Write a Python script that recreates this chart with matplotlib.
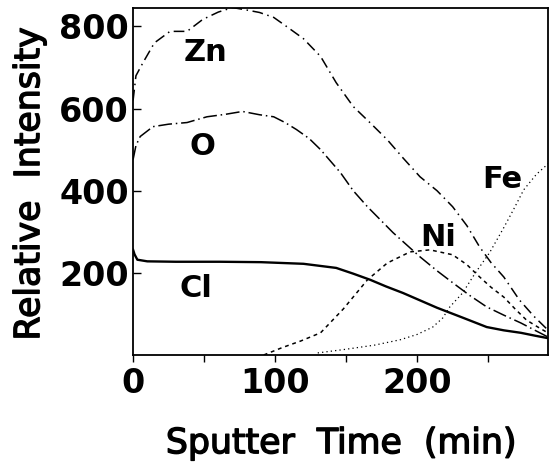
import matplotlib
matplotlib.use("Agg")
import matplotlib.pyplot as plt
import matplotlib.patheffects as pe

plt.rcParams['font.family'] = ['DejaVu Sans']

# depth profiles (time in min, intensity)
zn_t = [0, 2, 7, 15, 26, 38, 49, 60, 70, 80, 89, 99, 108, 120, 132, 143, 155,
        167, 179, 190, 202, 214, 225, 235, 244, 252, 261, 272, 282, 292]
zn_y = [620, 680, 712, 760, 788, 788, 817, 835, 846, 840, 834, 822, 800, 770,
        727, 663, 605, 565, 524, 480, 434, 400, 361, 315, 263, 225, 190, 134,
        95, 61]

o_t = [0, 2, 5, 14, 25, 38, 52, 65, 77, 89, 99, 107, 115, 124, 132, 146, 155,
       165, 183, 202, 214, 225, 237, 249, 261, 273, 283, 292]
o_y = [476, 510, 532, 556, 562, 566, 580, 586, 593, 585, 580, 566, 549, 527,
       500, 444, 400, 361, 298, 239, 205, 176, 145, 117, 97, 78, 60, 44]

cl_t = [0, 1, 3, 10, 30, 61, 90, 120, 143, 155, 167, 178, 190, 202, 214, 232,
        249, 261, 273, 283, 292]
cl_y = [256, 245, 232, 228, 227, 227, 226, 222, 212, 198, 183, 167, 151, 133,
        115, 91, 68, 60, 54, 47, 41]

ni_t = [92, 105, 118, 132, 148, 165, 179, 195, 209, 225, 235, 244, 252, 261,
        269, 277, 285, 292]
ni_y = [0, 18, 34, 54, 112, 183, 224, 251, 256, 244, 220, 190, 165, 141, 112,
        85, 68, 54]

fe_t = [130, 150, 170, 188, 200, 211, 218, 223, 232, 241, 251, 261, 268, 275,
        284, 293]
fe_y = [5, 14, 24, 37, 50, 68, 90, 117, 151, 200, 249, 310, 355, 402, 440,
        468]

# element names and where they sit
lbl_text = ['Zn', 'O', 'Cl', 'Ni', 'Fe']
lbl_x = [51, 49, 44, 215, 260]
lbl_y = [737, 507, 163, 285, 427]

fig = plt.figure(figsize=(5.5, 4.68), dpi=100)
ax = fig.add_axes([0.242, 0.2415, 0.754, 0.7415])

ax.plot(zn_t, zn_y, color='black', lw=1.1, dashes=(7, 3, 1, 3))
ax.plot(o_t, o_y, color='black', lw=1.1, dashes=(9, 2.5, 1, 2.5))
ax.plot(cl_t, cl_y, color='black', lw=1.7)
ax.plot(ni_t, ni_y, color='black', lw=1.1, dashes=(2.5, 2.5))
ax.plot(fe_t, fe_y, color='black', lw=0.9, dashes=(1, 2.5))

for s, x, y in zip(lbl_text, lbl_x, lbl_y):
    ax.text(x, y, s, fontsize=22, fontweight='bold', ha='center',
            va='center')

ax.set_xlim(0, 292)
ax.set_ylim(0, 845)
ax.set_xticks([0, 100, 200])
ax.set_xticks([50, 150, 250], minor=True)
ax.set_yticks([200, 400, 600, 800])
ax.tick_params(axis='x', which='both', direction='out', length=5, width=1,
               labelsize=24, pad=4)
ax.tick_params(axis='y', direction='in', length=6, width=1, labelsize=24,
               pad=3)
for lab in ax.get_xticklabels() + ax.get_yticklabels():
    lab.set_fontweight('bold')
for sp in ax.spines.values():
    sp.set_linewidth(1.3)

# axis titles: wide lettering, slightly thickened strokes
heavy = [pe.withStroke(linewidth=1.0, foreground='black')]
fig.text(0.62, 0.053, 'Sputter  Time  (min)', fontsize=25,
         ha='center', va='center', path_effects=heavy)
fig.text(0.053, 0.607, 'Relative  Intensity', fontsize=25,
         ha='center', va='center', rotation=90, path_effects=heavy)

fig.savefig('out.png', dpi=100)
